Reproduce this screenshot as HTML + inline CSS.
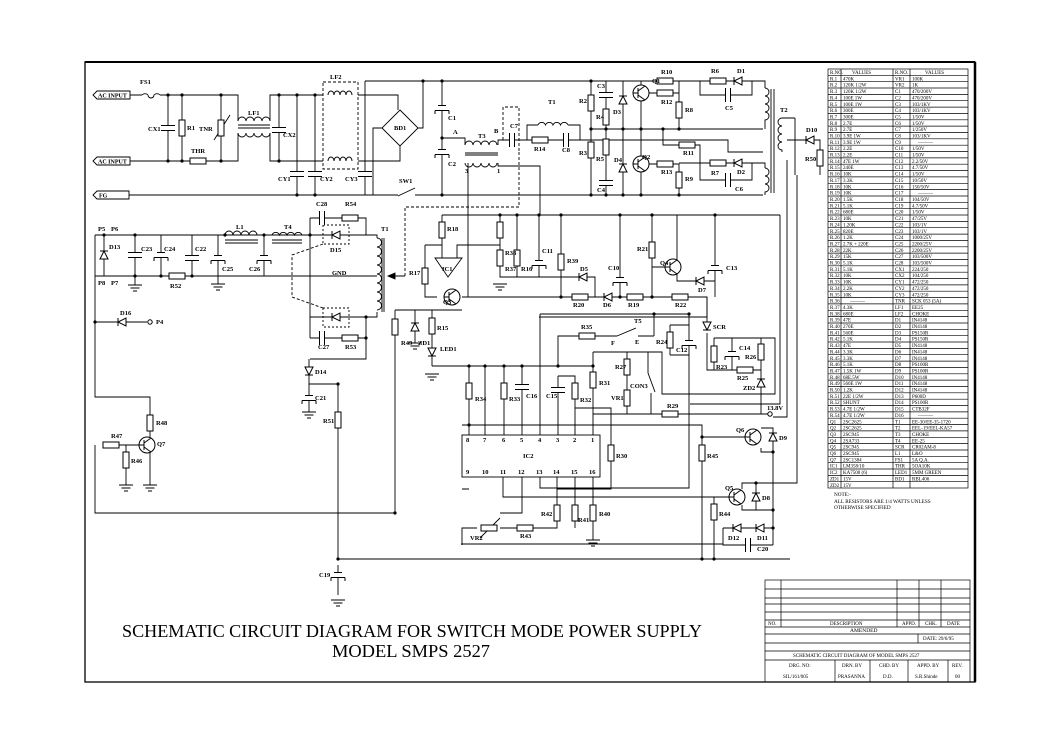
<!DOCTYPE html>
<html><head><meta charset="utf-8"><style>
html,body{margin:0;padding:0;background:#fff;}
svg{display:block;}
text{font-family:"Liberation Serif",serif;fill:#000;}
.l{font-size:6.5px;font-weight:bold;}
.t{font-size:5px;}
</style></head><body>
<svg width="1053" height="744" viewBox="0 0 1053 744" xmlns="http://www.w3.org/2000/svg">
<defs>
<g id="rv"><rect x="-3" y="-8" width="6" height="16" fill="#fff" stroke="#000"/></g>
<g id="rh"><rect x="-8" y="-3" width="16" height="6" fill="#fff" stroke="#000"/></g>
<g id="cv"><rect x="-7" y="-2.5" width="14" height="5" fill="#fff" stroke="none"/><path d="M-7 -2.5H7M-7 2.5H7" stroke="#000"/></g>
<g id="ch"><rect x="-2.5" y="-7" width="5" height="14" fill="#fff" stroke="none"/><path d="M-2.5 -7V7M2.5 -7V7" stroke="#000"/></g>
<g id="ce"><rect x="-7" y="-2.5" width="14" height="5" fill="#fff" stroke="none"/><path d="M-4 -2.5H4M-7 2.5H7M-7 2.5V6M7 2.5V6" stroke="#000" fill="none"/></g>
<g id="gnd"><path d="M-7 0H7M-4.5 3H4.5M-2 6H2" stroke="#000"/></g>
<g id="du"><polygon points="-4,4 4,4 0,-4" fill="#fff" stroke="#000"/><path d="M-4 -4H4" stroke="#000"/></g>
<g id="dd"><polygon points="-4,-4 4,-4 0,4" fill="#fff" stroke="#000"/><path d="M-4 4H4" stroke="#000"/></g>
<g id="dl"><polygon points="4,-4 4,4 -4,0" fill="#fff" stroke="#000"/><path d="M-4 -4V4" stroke="#000"/></g>
<g id="q"><circle r="8" fill="#fff" stroke="#000"/><path d="M-3 -5V5M-8 0H-3M-3 -2L4 -7M-3 2L4 7" stroke="#000" fill="none"/></g>
<g id="dot"><circle r="1.6" fill="#000"/></g>
</defs>

<!-- border -->
<rect x="85" y="62" width="890" height="620" fill="none" stroke="#000" stroke-width="1.3"/>
<path d="M85 62H975" stroke="#000" stroke-width="2"/>
<path d="M975 62V682" stroke="#000" stroke-width="2.5"/>

<g stroke="#000" stroke-width="0.9" fill="none">
<!-- mains input -->
<path d="M130 95H142M160 95H238V121M270 121V95H323M358 95H398V110"/>
<path d="M142 95a4 4 0 0 1 6 0a3 3 0 0 0 6 0a4 4 0 0 1 6 0"/>
<path d="M130 161H238V133M270 133V161H323M358 161H400V146"/>
<path d="M238 121a4 4 0 0 1 8 0a4 4 0 0 1 8 0a4 4 0 0 1 8 0a4 4 0 0 1 8 0"/>
<path d="M238 133a4 4 0 0 0 8 0a4 4 0 0 0 8 0a4 4 0 0 0 8 0a4 4 0 0 0 8 0"/>
<path d="M238 125H270M238 128H270"/>
<path d="M168 95V161M182 95V161M221 95V161M279 95V161M297 95V195M315 95V195M365 81V195"/>
<path d="M382 128H373V195M418 128H423V81M365 81H752V81"/>
<path d="M129 195H395M418 195H763"/>
<path d="M395 195l3 0M398 196l17 -8M415 195H418"/>
<polygon points="400,110 418,128 400,146 382,128"/>
<path d="M323 82H358V169H323Z" stroke-dasharray="3,2"/>
<path d="M328 95a3 4 0 0 1 6 0a3 4 0 0 1 6 0a3 4 0 0 1 6 0a3 4 0 0 1 6 0"/>
<path d="M328 161a3 4 0 0 1 6 0a3 4 0 0 1 6 0a3 4 0 0 1 6 0a3 4 0 0 1 6 0"/>
<path d="M214 140L230 115"/>
<!-- C1 C2 T3 -->
<path d="M442 81V195M442 138H465V145"/>
<path d="M465 145a4 4 0 0 1 8 0a4 4 0 0 1 8 0a4 4 0 0 1 8 0a4 4 0 0 1 8 0"/>
<path d="M465 153H498M465 155H498"/>
<path d="M465 163a4 4 0 0 0 8 0a4 4 0 0 0 8 0a4 4 0 0 0 8 0a4 4 0 0 0 8 0"/>
<path d="M468 163V297H707V317H539M498 145V140H591M498 163V166H540V215"/>
<path d="M527 140V125H538M568 125H580V140M580 140H728V152H763"/>
<path d="M538 125a4 4 0 0 1 7.5 0a4 4 0 0 1 7.5 0a4 4 0 0 1 7.5 0a4 4 0 0 1 7.5 0"/>
<path d="M503 140V107H519V152M519 152V207H405V276" stroke-dasharray="3,2"/>
<!-- half bridge -->
<path d="M591 81V195M606 81V195M623 81V195M641 81V195M591 129H763M591 195H763"/>
<path d="M648 93H679M679 81V129M700 81V95H752V81M752 81H765V88"/>
<path d="M663 129V145H700V163H752V163M648 164H679V195M679 163H765V168M700 163V180H752V163"/>
<path d="M765 88a4 4 0 0 1 0 8a4 4 0 0 1 0 8a4 4 0 0 1 0 8a4 4 0 0 1 0 8V129"/>
<path d="M765 168a4 4 0 0 1 0 8a4 4 0 0 1 0 8a4 4 0 0 1 0 8V195"/>
<path d="M771 89V193M774 89V193"/>
<path d="M795 118H782a4 4 0 0 0 0 8a4 4 0 0 0 0 8a4 4 0 0 0 0 8a4 4 0 0 0 0 8V152"/>
<path d="M795 118V175M787 140H820V175"/>
<path d="M780 215V404H690M787 160V417H773M797 175V483H742"/>
<!-- mid control -->
<path d="M442 215H780M500 215V277H595V297M517 215V277M539 215V277M561 215V297M620 215V297M652 215V297"/>
<path d="M485 245H500M652 267H666M677 260V215M677 274V281H715M715 215V297M707 297V322"/>
<path d="M540 314H690M540 314V435M654 314V336M689 314V488H540V477"/>
<path d="M670 325H689M670 355H689M670 325V355"/>
<path d="M707 333V370H761M714 338H775V394H662V352H593M714 338V370M732 338V370M761 338V414"/>
<path d="M593 352V435M593 414H770M627 352V414M648 352V373M651 393V414M648 373L655 392"/>
<path d="M558 366V336H617M617 336L636 328M638 336H654"/>
<path d="M432 366H593M485 366V435M504 366V435M522 366V435M558 376H575V435M558 376V435M575 408H611V489H557"/>
<path d="M462 425H702V559M702 437H745M761 428H773V545M761 448V452H773"/>
<path d="M503 477V497H730M714 497V559M742 489V483H797M742 505V510H773M756 483V510M723 528H773M723 528V545H773"/>
<path d="M338 559H790M469 366V477M469 489H462M522 477V513H500M477 528H462V545M461 544H723M500 528H557V477M575 477V528M593 477V540"/>
<path d="M480 538L500 518"/>
<!-- IC1 area -->
<path d="M442 215V258M425 245H442M425 245V297H437M457 258V245H485M462 297H468M395 310H462M395 310V513M415 310V343M432 310V366"/>
<polygon points="435,258 462,258 448,277" fill="#fff"/>
<!-- output rectifier -->
<path d="M95 235H310M95 276H377M95 235V397H150V437M95 445V513H395M95 322H147"/>
<path d="M104 235V276M135 235V285M161 235V276M192 235V276M218 235V284M264 235V276"/>
<path d="M225 235a4 4 0 0 1 8 0a4 4 0 0 1 8 0a4 4 0 0 1 8 0a4 4 0 0 1 8 0"/>
<path d="M272 235a4 4 0 0 1 7.5 0a4 4 0 0 1 7.5 0a4 4 0 0 1 7.5 0a4 4 0 0 1 7.5 0"/>
<path d="M225 240H258M225 243H258M272 240H302M272 243H302"/>
<path d="M310 218V338M310 218H366V235M310 235H366M366 235H377V238M310 317H377V312M310 338H366V317M310 359H366V338M309 359V384H338V559"/>
<path d="M377 238a4 4 0 0 1 0 9a4 4 0 0 1 0 9a4 4 0 0 1 0 9a4 4 0 0 1 0 9a4 4 0 0 1 0 9a4 4 0 0 1 0 9a4 4 0 0 1 0 9a4 4 0 0 1 0 9"/>
<path d="M382 238V312M384 238V312M393 276H405"/>
<polygon points="388,276 395,273 395,279" fill="#000"/>
<path d="M323 225H349V244H323Z" stroke-dasharray="2,2"/>
<path d="M323 308H349V327H323Z" stroke-dasharray="2,2"/>
<path d="M323 244L292 255V297L323 308" stroke-dasharray="3,2"/>
<path d="M309 384V412M338 565V595"/>
<path d="M103 445H139M126 445V485M150 452V485M95 445V445"/>
<rect x="462" y="435" width="138" height="42" fill="#fff"/>
</g>

<!-- components -->
<g>
<use href="#rv" x="182" y="128"/><use href="#rh" x="198" y="161"/><use href="#rv" x="221" y="128"/>
<use href="#cv" x="168" y="128"/><use href="#cv" x="279" y="130"/><use href="#cv" x="297" y="174"/><use href="#cv" x="315" y="174"/><use href="#cv" x="365" y="174"/>
<use href="#ce" x="442" y="108"/><use href="#ce" x="442" y="152"/>
<use href="#ch" x="512" y="140"/><use href="#rh" x="540" y="140"/><use href="#ch" x="566" y="140"/>
<use href="#rv" x="591" y="103"/><use href="#rv" x="591" y="150"/><use href="#cv" x="606" y="95"/><use href="#rv" x="606" y="117"/><use href="#rv" x="606" y="147"/><use href="#cv" x="606" y="183"/>
<use href="#du" x="623" y="100"/><use href="#du" x="623" y="168"/>
<use href="#q" x="641" y="93"/><use href="#q" x="641" y="164"/>
<use href="#rh" x="665" y="81"/><use href="#rh" x="665" y="93"/><use href="#rv" x="679" y="110"/><use href="#rh" x="718" y="81"/><use href="#dl" x="738" y="81"/>
<use href="#ch" x="728" y="95"/><use href="#rh" x="687" y="145"/><use href="#rh" x="665" y="164"/><use href="#rv" x="679" y="180"/><use href="#rh" x="718" y="163"/><use href="#dl" x="738" y="163"/><use href="#ch" x="728" y="180"/>
<use href="#dl" x="810" y="140"/><use href="#rv" x="820" y="158"/>
<use href="#rv" x="500" y="230"/><use href="#rv" x="500" y="258"/><use href="#rv" x="517" y="258"/><use href="#ce" x="539" y="263"/><use href="#rv" x="561" y="262"/>
<use href="#gnd" x="500" y="284"/><use href="#dl" x="583" y="277"/>
<use href="#rh" x="580" y="297"/><use href="#dl" x="608" y="297"/><use href="#rh" x="635" y="297"/><use href="#rh" x="680" y="297"/>
<use href="#ce" x="620" y="280"/><use href="#rv" x="652" y="250"/><use href="#q" x="673" y="267"/><use href="#dl" x="700" y="281"/><use href="#ce" x="715" y="268"/>
<use href="#rh" x="587" y="336"/><use href="#rv" x="670" y="340"/><use href="#ce" x="689" y="343"/>
<use href="#dd" x="707" y="326"/><use href="#rv" x="714" y="354"/><use href="#ce" x="732" y="354"/><use href="#rv" x="761" y="352"/><use href="#rh" x="745" y="370"/><use href="#du" x="761" y="383"/>
<use href="#rv" x="593" y="380"/><use href="#rv" x="627" y="367"/><use href="#rv" x="627" y="398"/><use href="#rh" x="670" y="414"/>
<use href="#rv" x="469" y="391"/><use href="#rv" x="504" y="391"/><use href="#cv" x="522" y="387"/><use href="#cv" x="558" y="390"/><use href="#rv" x="575" y="391"/><use href="#rv" x="611" y="453"/>
<use href="#rv" x="702" y="453"/><use href="#q" x="753" y="437"/><use href="#du" x="773" y="437"/>
<use href="#q" x="737" y="497"/><use href="#du" x="756" y="497"/><use href="#rv" x="714" y="512"/>
<use href="#dl" x="737" y="528"/><use href="#dl" x="760" y="528"/><use href="#ch" x="748" y="545"/>
<use href="#rv" x="557" y="513"/><use href="#rv" x="575" y="513"/><use href="#rv" x="593" y="513"/><use href="#rh" x="525" y="528"/><use href="#gnd" x="593" y="540"/>
<use href="#rh" x="489" y="528"/>
<use href="#rv" x="442" y="230"/><use href="#rv" x="425" y="276"/><use href="#q" x="452" y="297"/>
<use href="#rv" x="395" y="327"/><use href="#du" x="415" y="327"/><use href="#gnd" x="415" y="343"/><use href="#rv" x="432" y="326"/><use href="#dd" x="432" y="352"/><use href="#gnd" x="432" y="374"/>
<use href="#du" x="104" y="255"/><use href="#cv" x="135" y="255"/><use href="#gnd" x="135" y="285"/><use href="#ce" x="161" y="255"/><use href="#cv" x="192" y="258"/><use href="#ce" x="218" y="258"/><use href="#gnd" x="218" y="284"/><use href="#ce" x="264" y="258"/>
<use href="#rh" x="177" y="276"/><use href="#ch" x="322" y="218"/><use href="#rh" x="350" y="218"/><use href="#dl" x="336" y="235"/>
<use href="#dl" x="336" y="317"/><use href="#ch" x="322" y="338"/><use href="#rh" x="350" y="338"/>
<use href="#dd" x="309" y="371"/><use href="#ce" x="309" y="398"/><use href="#gnd" x="309" y="412"/><use href="#rv" x="338" y="420"/>
<use href="#ce" x="338" y="575"/><use href="#gnd" x="338" y="600"/>
<use href="#dl" x="122" y="322"/>
<use href="#rv" x="150" y="423"/><use href="#q" x="147" y="445"/><use href="#rh" x="111" y="445"/><use href="#rv" x="126" y="460"/><use href="#gnd" x="126" y="485"/><use href="#gnd" x="150" y="485"/>
<use href="#dot" x="168" y="95"/><use href="#dot" x="182" y="95"/><use href="#dot" x="221" y="95"/><use href="#dot" x="279" y="95"/><use href="#dot" x="297" y="95"/><use href="#dot" x="315" y="95"/>
<use href="#dot" x="168" y="161"/><use href="#dot" x="182" y="161"/><use href="#dot" x="221" y="161"/><use href="#dot" x="279" y="161"/><use href="#dot" x="297" y="195"/><use href="#dot" x="315" y="195"/>
<use href="#dot" x="423" y="81"/><use href="#dot" x="442" y="81"/><use href="#dot" x="442" y="138"/><use href="#dot" x="442" y="195"/>
<use href="#dot" x="591" y="81"/><use href="#dot" x="591" y="129"/><use href="#dot" x="606" y="129"/><use href="#dot" x="623" y="129"/><use href="#dot" x="641" y="129"/><use href="#dot" x="663" y="129"/><use href="#dot" x="679" y="129"/>
<use href="#dot" x="591" y="195"/><use href="#dot" x="606" y="195"/><use href="#dot" x="623" y="195"/><use href="#dot" x="641" y="195"/><use href="#dot" x="679" y="195"/>
<use href="#dot" x="500" y="215"/><use href="#dot" x="517" y="215"/><use href="#dot" x="539" y="215"/><use href="#dot" x="561" y="215"/><use href="#dot" x="620" y="215"/><use href="#dot" x="652" y="215"/><use href="#dot" x="715" y="215"/>
<use href="#dot" x="561" y="297"/><use href="#dot" x="620" y="297"/><use href="#dot" x="652" y="297"/><use href="#dot" x="654" y="314"/><use href="#dot" x="689" y="314"/>
<use href="#dot" x="338" y="559"/><use href="#dot" x="395" y="513"/><use href="#dot" x="338" y="384"/><use href="#dot" x="702" y="559"/><use href="#dot" x="714" y="559"/>
<use href="#dot" x="558" y="366"/><use href="#dot" x="593" y="366"/><use href="#dot" x="504" y="366"/><use href="#dot" x="522" y="366"/><use href="#dot" x="485" y="366"/><use href="#dot" x="469" y="366"/><use href="#dot" x="469" y="425"/>
<use href="#dot" x="773" y="452"/><use href="#dot" x="773" y="510"/><use href="#dot" x="773" y="528"/><use href="#dot" x="756" y="483"/><use href="#dot" x="702" y="437"/>
<use href="#dot" x="104" y="235"/><use href="#dot" x="135" y="235"/><use href="#dot" x="135" y="276"/><use href="#dot" x="161" y="276"/><use href="#dot" x="192" y="276"/><use href="#dot" x="225" y="235"/><use href="#dot" x="264" y="235"/><use href="#dot" x="310" y="235"/><use href="#dot" x="366" y="317"/><use href="#dot" x="366" y="338"/><use href="#dot" x="95" y="322"/>
<circle cx="150" cy="322" r="2.2" fill="#fff" stroke="#000"/><circle cx="770" cy="414" r="2.2" fill="#fff" stroke="#000"/>
</g>

<!-- IC2 -->
<g class="l" font-size="6.5">
<text x="466" y="442">8</text><text x="483" y="442">7</text><text x="502" y="442">6</text><text x="520" y="442">5</text><text x="538" y="442">4</text><text x="556" y="442">3</text><text x="573" y="442">2</text><text x="591" y="442">1</text>
<text x="523" y="458">IC2</text>
<text x="466" y="474">9</text><text x="482" y="474">10</text><text x="500" y="474">11</text><text x="518" y="474">12</text><text x="536" y="474">13</text><text x="553" y="474">14</text><text x="571" y="474">15</text><text x="589" y="474">16</text>
</g>

<!-- input labels -->
<g stroke="#000" fill="none" stroke-width="0.9">
<path d="M97 91H130V99H97L93 95Z"/><path d="M97 157H130V165H97L93 161Z"/><path d="M97 191H129V199H97L93 195Z"/>
</g>
<g class="l">
<text x="98" y="97.5" font-size="6">AC INPUT</text><text x="98" y="163.5" font-size="6">AC INPUT</text><text x="99" y="197.5" font-size="6">FG</text>
<text x="140" y="84">FS1</text><text x="148" y="131">CX1</text><text x="187" y="130">R1</text><text x="199" y="131">TNR</text><text x="191" y="153">THR</text>
<text x="248" y="115">LF1</text><text x="283" y="137">CX2</text><text x="330" y="79">LF2</text><text x="394" y="130">BD1</text>
<text x="278" y="181">CY1</text><text x="320" y="181">CY2</text><text x="345" y="181">CY3</text><text x="399" y="183">SW1</text>
<text x="448" y="120">C1</text><text x="448" y="166">C2</text><text x="453" y="134">A</text><text x="478" y="138">T3</text><text x="494" y="133">B</text><text x="465" y="173">3</text><text x="497" y="173">1</text>
<text x="510" y="128">C7</text><text x="548" y="104">T1</text><text x="534" y="151">R14</text><text x="562" y="152">C8</text>
<text x="579" y="103">R2</text><text x="579" y="155">R3</text><text x="597" y="88">C3</text><text x="596" y="119">R4</text><text x="596" y="161">R5</text><text x="597" y="192">C4</text>
<text x="613" y="114">D3</text><text x="614" y="162">D4</text><text x="652" y="83">Q1</text><text x="642" y="159">Q2</text>
<text x="661" y="74">R10</text><text x="661" y="104">R12</text><text x="685" y="112">R8</text><text x="711" y="73">R6</text><text x="737" y="73">D1</text><text x="725" y="110">C5</text>
<text x="683" y="155">R11</text><text x="661" y="174">R13</text><text x="685" y="181">R9</text><text x="711" y="175">R7</text><text x="737" y="174">D2</text><text x="735" y="191">C6</text>
<text x="780" y="112">T2</text><text x="806" y="132">D10</text><text x="805" y="161">R50</text>
<text x="85" y="232">&#160;</text><text x="98" y="231">P5</text><text x="111" y="231">P6</text><text x="109" y="249">D13</text><text x="98" y="285">P8</text><text x="111" y="285">P7</text>
<text x="141" y="251">C23</text><text x="164" y="251">C24</text><text x="195" y="251">C22</text><text x="222" y="271">C25</text><text x="249" y="271">C26</text><text x="170" y="288">R52</text>
<text x="236" y="229">L1</text><text x="284" y="229">T4</text><text x="316" y="206">C28</text><text x="345" y="206">R54</text><text x="330" y="252">D15</text><text x="381" y="231">T1</text>
<text x="332" y="275">GND</text><text x="318" y="349">C27</text><text x="345" y="349">R53</text>
<text x="315" y="374">D14</text><text x="315" y="400">C21</text><text x="323" y="423">R51</text><text x="319" y="577">C19</text>
<text x="120" y="315">D16</text><text x="156" y="324">P4</text>
<text x="111" y="438">R47</text><text x="156" y="425">R48</text><text x="157" y="446">Q7</text><text x="131" y="463">R46</text>
<text x="447" y="231">R18</text><text x="409" y="275">R17</text><text x="442" y="271">IC1</text><text x="443" y="304">Q3</text>
<text x="401" y="345">R49</text><text x="418" y="345">ZD1</text><text x="437" y="330">R15</text><text x="440" y="351">LED1</text>
<text x="475" y="401">R34</text><text x="509" y="401">R33</text><text x="526" y="398">C16</text><text x="546" y="398">C15</text><text x="580" y="402">R32</text><text x="599" y="385">R31</text>
<text x="581" y="329">R35</text><text x="634" y="323">T5</text><text x="611" y="345">F</text><text x="635" y="344">E</text>
<text x="615" y="369">R27</text><text x="611" y="400">VR1</text><text x="630" y="388">CON3</text><text x="667" y="408">R29</text><text x="767" y="410">13.8V</text>
<text x="656" y="344">R24</text><text x="676" y="352">C12</text><text x="713" y="329">SCR</text><text x="739" y="350">C14</text><text x="745" y="359">R26</text><text x="716" y="369">R23</text><text x="737" y="380">R25</text><text x="743" y="390">ZD2</text>
<text x="616" y="458">R30</text><text x="707" y="458">R45</text><text x="736" y="432">Q6</text><text x="779" y="440">D9</text>
<text x="725" y="490">Q5</text><text x="762" y="500">D8</text><text x="719" y="516">R44</text><text x="728" y="540">D12</text><text x="757" y="540">D11</text><text x="757" y="551">C20</text>
<text x="541" y="516">R42</text><text x="578" y="522">R41</text><text x="599" y="516">R40</text><text x="520" y="538">R43</text><text x="470" y="540">VR2</text>
<text x="505" y="255">R38</text><text x="505" y="271">R37</text><text x="521" y="271">R16</text><text x="542" y="253">C11</text><text x="567" y="263">R39</text><text x="580" y="271">D5</text>
<text x="573" y="307">R20</text><text x="603" y="307">D6</text><text x="628" y="307">R19</text><text x="608" y="270">C10</text><text x="637" y="251">R21</text><text x="660" y="265">Q4</text><text x="698" y="292">D7</text><text x="726" y="270">C13</text><text x="675" y="307">R22</text>
</g>

<!-- parts table -->
<g stroke="#000" fill="none" stroke-width="0.7">
<rect x="828" y="69" width="140" height="419"/>
<path d="M841 69V488M893 69V488M910 69V488"/>
<path d="M828 75.3H968M828 81.7H968M828 88H968M828 94.4H968M828 100.7H968M828 107.1H968M828 113.4H968M828 119.8H968M828 126.1H968M828 132.5H968M828 138.8H968M828 145.2H968M828 151.5H968M828 157.9H968M828 164.2H968M828 170.6H968M828 176.9H968M828 183.3H968M828 189.6H968M828 196H968M828 202.3H968M828 208.7H968M828 215H968M828 221.4H968M828 227.7H968M828 234.1H968M828 240.4H968M828 246.8H968M828 253.1H968M828 259.5H968M828 265.8H968M828 272.2H968M828 278.5H968M828 284.9H968M828 291.2H968M828 297.6H968M828 303.9H968M828 310.3H968M828 316.6H968M828 323H968M828 329.3H968M828 335.7H968M828 342H968M828 348.4H968M828 354.7H968M828 361.1H968M828 367.4H968M828 373.8H968M828 380.1H968M828 386.5H968M828 392.8H968M828 399.2H968M828 405.5H968M828 411.9H968M828 418.2H968M828 424.6H968M828 430.9H968M828 437.3H968M828 443.6H968M828 450H968M828 456.3H968M828 462.7H968M828 469H968M828 475.4H968M828 481.7H968"/>
</g>
<g class="t">
<text x="830" y="74"><tspan x="830">R.NO.</tspan><tspan x="830" dy="6.35">R.1</tspan><tspan x="830" dy="6.35">R.2</tspan><tspan x="830" dy="6.35">R.3</tspan><tspan x="830" dy="6.35">R.4</tspan><tspan x="830" dy="6.35">R.5</tspan><tspan x="830" dy="6.35">R.6</tspan><tspan x="830" dy="6.35">R.7</tspan><tspan x="830" dy="6.35">R.8</tspan><tspan x="830" dy="6.35">R.9</tspan><tspan x="830" dy="6.35">R.10</tspan><tspan x="830" dy="6.35">R.11</tspan><tspan x="830" dy="6.35">R.12</tspan><tspan x="830" dy="6.35">R.13</tspan><tspan x="830" dy="6.35">R.14</tspan><tspan x="830" dy="6.35">R.15</tspan><tspan x="830" dy="6.35">R.16</tspan><tspan x="830" dy="6.35">R.17</tspan><tspan x="830" dy="6.35">R.18</tspan><tspan x="830" dy="6.35">R.19</tspan><tspan x="830" dy="6.35">R.20</tspan><tspan x="830" dy="6.35">R.21</tspan><tspan x="830" dy="6.35">R.22</tspan><tspan x="830" dy="6.35">R.23</tspan><tspan x="830" dy="6.35">R.24</tspan><tspan x="830" dy="6.35">R.25</tspan><tspan x="830" dy="6.35">R.26</tspan><tspan x="830" dy="6.35">R.27</tspan><tspan x="830" dy="6.35">R.28</tspan><tspan x="830" dy="6.35">R.29</tspan><tspan x="830" dy="6.35">R.30</tspan><tspan x="830" dy="6.35">R.31</tspan><tspan x="830" dy="6.35">R.32</tspan><tspan x="830" dy="6.35">R.33</tspan><tspan x="830" dy="6.35">R.34</tspan><tspan x="830" dy="6.35">R.35</tspan><tspan x="830" dy="6.35">R.36</tspan><tspan x="830" dy="6.35">R.37</tspan><tspan x="830" dy="6.35">R.38</tspan><tspan x="830" dy="6.35">R.39</tspan><tspan x="830" dy="6.35">R.40</tspan><tspan x="830" dy="6.35">R.41</tspan><tspan x="830" dy="6.35">R.42</tspan><tspan x="830" dy="6.35">R.43</tspan><tspan x="830" dy="6.35">R.44</tspan><tspan x="830" dy="6.35">R.45</tspan><tspan x="830" dy="6.35">R.46</tspan><tspan x="830" dy="6.35">R.47</tspan><tspan x="830" dy="6.35">R.48</tspan><tspan x="830" dy="6.35">R.49</tspan><tspan x="830" dy="6.35">R.50</tspan><tspan x="830" dy="6.35">R.51</tspan><tspan x="830" dy="6.35">R.52</tspan><tspan x="830" dy="6.35">R.53</tspan><tspan x="830" dy="6.35">R.54</tspan><tspan x="830" dy="6.35">Q1</tspan><tspan x="830" dy="6.35">Q2</tspan><tspan x="830" dy="6.35">Q3</tspan><tspan x="830" dy="6.35">Q4</tspan><tspan x="830" dy="6.35">Q5</tspan><tspan x="830" dy="6.35">Q6</tspan><tspan x="830" dy="6.35">Q7</tspan><tspan x="830" dy="6.35">IC1</tspan><tspan x="830" dy="6.35">IC2</tspan><tspan x="830" dy="6.35">ZD1</tspan><tspan x="830" dy="6.35">ZD2</tspan></text>
<text x="843" y="74"><tspan x="852">VALUES</tspan><tspan x="843" dy="6.35">470K</tspan><tspan x="843" dy="6.35">120K 1/2W</tspan><tspan x="843" dy="6.35">120K 1/2W</tspan><tspan x="843" dy="6.35">100E 1W</tspan><tspan x="843" dy="6.35">100E 1W</tspan><tspan x="843" dy="6.35">300E</tspan><tspan x="843" dy="6.35">300E</tspan><tspan x="843" dy="6.35">2.7E</tspan><tspan x="843" dy="6.35">2.7E</tspan><tspan x="843" dy="6.35">3.9E 1W</tspan><tspan x="843" dy="6.35">3.9E 1W</tspan><tspan x="843" dy="6.35">2.2E</tspan><tspan x="843" dy="6.35">2.2E</tspan><tspan x="843" dy="6.35">47E 1W</tspan><tspan x="843" dy="6.35">240E</tspan><tspan x="843" dy="6.35">10K</tspan><tspan x="843" dy="6.35">3.3K</tspan><tspan x="843" dy="6.35">10K</tspan><tspan x="843" dy="6.35">10K</tspan><tspan x="843" dy="6.35">1.5K</tspan><tspan x="843" dy="6.35">5.1K</tspan><tspan x="843" dy="6.35">680E</tspan><tspan x="843" dy="6.35">10K</tspan><tspan x="843" dy="6.35">1.20K</tspan><tspan x="843" dy="6.35">820E</tspan><tspan x="843" dy="6.35">1.2K</tspan><tspan x="843" dy="6.35">2.7K + 220E</tspan><tspan x="843" dy="6.35">22K</tspan><tspan x="843" dy="6.35">15K</tspan><tspan x="843" dy="6.35">5.1K</tspan><tspan x="843" dy="6.35">5.1K</tspan><tspan x="843" dy="6.35">10K</tspan><tspan x="843" dy="6.35">10K</tspan><tspan x="843" dy="6.35">2.2K</tspan><tspan x="843" dy="6.35">10K</tspan><tspan x="850" dy="6.35">———</tspan><tspan x="843" dy="6.35">4.3K</tspan><tspan x="843" dy="6.35">680E</tspan><tspan x="843" dy="6.35">47E</tspan><tspan x="843" dy="6.35">270E</tspan><tspan x="843" dy="6.35">560E</tspan><tspan x="843" dy="6.35">5.1K</tspan><tspan x="843" dy="6.35">47E</tspan><tspan x="843" dy="6.35">3.3K</tspan><tspan x="843" dy="6.35">3.3K</tspan><tspan x="843" dy="6.35">5.1K</tspan><tspan x="843" dy="6.35">1.5K 1W</tspan><tspan x="843" dy="6.35">68E.5W</tspan><tspan x="843" dy="6.35">560E 1W</tspan><tspan x="843" dy="6.35">1.2K</tspan><tspan x="843" dy="6.35">22E 1/2W</tspan><tspan x="843" dy="6.35">SHUNT</tspan><tspan x="843" dy="6.35">4.7E 1/2W</tspan><tspan x="843" dy="6.35">4.7E 1/2W</tspan><tspan x="843" dy="6.35">2SC2625</tspan><tspan x="843" dy="6.35">2SC2625</tspan><tspan x="843" dy="6.35">2SC945</tspan><tspan x="843" dy="6.35">2SA733</tspan><tspan x="843" dy="6.35">2SC945</tspan><tspan x="843" dy="6.35">2SC945</tspan><tspan x="843" dy="6.35">2SC1384</tspan><tspan x="843" dy="6.35">LM358/10</tspan><tspan x="843" dy="6.35">KA7500 (6)</tspan><tspan x="843" dy="6.35">15V</tspan><tspan x="843" dy="6.35">15V</tspan></text>
<text x="895" y="74"><tspan x="895">R.NO.</tspan><tspan x="895" dy="6.35">VR1</tspan><tspan x="895" dy="6.35">VR2</tspan><tspan x="895" dy="6.35">C1</tspan><tspan x="895" dy="6.35">C2</tspan><tspan x="895" dy="6.35">C3</tspan><tspan x="895" dy="6.35">C4</tspan><tspan x="895" dy="6.35">C5</tspan><tspan x="895" dy="6.35">C6</tspan><tspan x="895" dy="6.35">C7</tspan><tspan x="895" dy="6.35">C8</tspan><tspan x="895" dy="6.35">C9</tspan><tspan x="895" dy="6.35">C10</tspan><tspan x="895" dy="6.35">C11</tspan><tspan x="895" dy="6.35">C12</tspan><tspan x="895" dy="6.35">C13</tspan><tspan x="895" dy="6.35">C14</tspan><tspan x="895" dy="6.35">C15</tspan><tspan x="895" dy="6.35">C16</tspan><tspan x="895" dy="6.35">C17</tspan><tspan x="895" dy="6.35">C18</tspan><tspan x="895" dy="6.35">C19</tspan><tspan x="895" dy="6.35">C20</tspan><tspan x="895" dy="6.35">C21</tspan><tspan x="895" dy="6.35">C22</tspan><tspan x="895" dy="6.35">C23</tspan><tspan x="895" dy="6.35">C24</tspan><tspan x="895" dy="6.35">C25</tspan><tspan x="895" dy="6.35">C26</tspan><tspan x="895" dy="6.35">C27</tspan><tspan x="895" dy="6.35">C28</tspan><tspan x="895" dy="6.35">CX1</tspan><tspan x="895" dy="6.35">CX2</tspan><tspan x="895" dy="6.35">CY1</tspan><tspan x="895" dy="6.35">CY2</tspan><tspan x="895" dy="6.35">CY3</tspan><tspan x="895" dy="6.35">TNR</tspan><tspan x="895" dy="6.35">LF1</tspan><tspan x="895" dy="6.35">LF2</tspan><tspan x="895" dy="6.35">D1</tspan><tspan x="895" dy="6.35">D2</tspan><tspan x="895" dy="6.35">D3</tspan><tspan x="895" dy="6.35">D4</tspan><tspan x="895" dy="6.35">D5</tspan><tspan x="895" dy="6.35">D6</tspan><tspan x="895" dy="6.35">D7</tspan><tspan x="895" dy="6.35">D8</tspan><tspan x="895" dy="6.35">D9</tspan><tspan x="895" dy="6.35">D10</tspan><tspan x="895" dy="6.35">D11</tspan><tspan x="895" dy="6.35">D12</tspan><tspan x="895" dy="6.35">D13</tspan><tspan x="895" dy="6.35">D14</tspan><tspan x="895" dy="6.35">D15</tspan><tspan x="895" dy="6.35">D16</tspan><tspan x="895" dy="6.35">T1</tspan><tspan x="895" dy="6.35">T2</tspan><tspan x="895" dy="6.35">T3</tspan><tspan x="895" dy="6.35">T4</tspan><tspan x="895" dy="6.35">SCR</tspan><tspan x="895" dy="6.35">L1</tspan><tspan x="895" dy="6.35">FS1</tspan><tspan x="895" dy="6.35">THR</tspan><tspan x="895" dy="6.35">LED1</tspan><tspan x="895" dy="6.35">BD1</tspan></text>
<text x="912" y="74"><tspan x="925">VALUES</tspan><tspan x="912" dy="6.35">100K</tspan><tspan x="912" dy="6.35">1K</tspan><tspan x="912" dy="6.35">470/200V</tspan><tspan x="912" dy="6.35">470/200V</tspan><tspan x="912" dy="6.35">103/1KV</tspan><tspan x="912" dy="6.35">103/1KV</tspan><tspan x="912" dy="6.35">1/50V</tspan><tspan x="912" dy="6.35">1/50V</tspan><tspan x="912" dy="6.35">1/250V</tspan><tspan x="912" dy="6.35">103/1KV</tspan><tspan x="918" dy="6.35">———</tspan><tspan x="912" dy="6.35">1/50V</tspan><tspan x="912" dy="6.35">1/50V</tspan><tspan x="912" dy="6.35">2.2/50V</tspan><tspan x="912" dy="6.35">4.7/50V</tspan><tspan x="912" dy="6.35">1/50V</tspan><tspan x="912" dy="6.35">10/50V</tspan><tspan x="912" dy="6.35">150/50V</tspan><tspan x="918" dy="6.35">———</tspan><tspan x="912" dy="6.35">104/50V</tspan><tspan x="912" dy="6.35">4.7/50V</tspan><tspan x="912" dy="6.35">1/50V</tspan><tspan x="912" dy="6.35">47/25V</tspan><tspan x="912" dy="6.35">103/1V</tspan><tspan x="912" dy="6.35">103/1V</tspan><tspan x="912" dy="6.35">1000/25V</tspan><tspan x="912" dy="6.35">2200/25V</tspan><tspan x="912" dy="6.35">2200/25V</tspan><tspan x="912" dy="6.35">103/500V</tspan><tspan x="912" dy="6.35">103/500V</tspan><tspan x="912" dy="6.35">224/250</tspan><tspan x="912" dy="6.35">104/250</tspan><tspan x="912" dy="6.35">472/250</tspan><tspan x="912" dy="6.35">472/250</tspan><tspan x="912" dy="6.35">472/250</tspan><tspan x="912" dy="6.35">SCK 053 (5A)</tspan><tspan x="912" dy="6.35">EE25</tspan><tspan x="912" dy="6.35">CHOKE</tspan><tspan x="912" dy="6.35">IN4148</tspan><tspan x="912" dy="6.35">IN4148</tspan><tspan x="912" dy="6.35">PS150R</tspan><tspan x="912" dy="6.35">PS150R</tspan><tspan x="912" dy="6.35">IN4148</tspan><tspan x="912" dy="6.35">IN4148</tspan><tspan x="912" dy="6.35">IN4148</tspan><tspan x="912" dy="6.35">PS100R</tspan><tspan x="912" dy="6.35">PS100R</tspan><tspan x="912" dy="6.35">IN4148</tspan><tspan x="912" dy="6.35">IN4148</tspan><tspan x="912" dy="6.35">IN4148</tspan><tspan x="912" dy="6.35">P600D</tspan><tspan x="912" dy="6.35">PS100R</tspan><tspan x="912" dy="6.35">CTB32F</tspan><tspan x="918" dy="6.35">———</tspan><tspan x="912" dy="6.35">EE-30/EE-35-1720</tspan><tspan x="912" dy="6.35">EEL-19/EEL-KA57</tspan><tspan x="912" dy="6.35">CHOKE</tspan><tspan x="912" dy="6.35">EE-25</tspan><tspan x="912" dy="6.35">CR02AM-8</tspan><tspan x="912" dy="6.35">L&amp;O</tspan><tspan x="912" dy="6.35">5A Q.A.</tspan><tspan x="912" dy="6.35">5OA10K</tspan><tspan x="912" dy="6.35">5MM GREEN</tspan><tspan x="912" dy="6.35">RBL406</tspan></text>
<text x="834" y="496" font-size="5.2">NOTE:-</text>
<text x="834" y="503" font-size="5.2">ALL RESISTORS ARE 1/4 WATTS UNLESS</text>
<text x="834" y="509" font-size="5.2">OTHERWISE SPECIFIED</text>
</g>

<!-- title block -->
<g stroke="#000" fill="none" stroke-width="0.7">
<rect x="765" y="580" width="205" height="102"/>
<path d="M765 589H970M765 598H970M765 604H970M765 612H970M765 620H970M765 627H970M765 634H970M765 643H970M765 651H970M765 660H970"/>
<path d="M781 580V627M897 580V627M919 580V627M941 580V627M918 634V643M835 660V682M870 660V682M908 660V682M948 660V682"/>
</g>
<g class="t" font-size="4.8">
<text x="768" y="625">NO.</text><text x="830" y="625">DESCRIPTION</text><text x="902" y="625">APPD.</text><text x="925" y="625">CHK.</text><text x="947" y="625">DATE</text>
<text x="850" y="632" font-size="5.5">AMENDED</text>
<text x="923" y="640">DATE: 29/6/95</text>
<text x="793" y="657">SCHEMATIC CIRCUIT DIAGRAM OF MODEL SMPS 2527</text>
<text x="789" y="667">DRG. NO:</text><text x="783" y="678">SIL/161/005</text>
<text x="842" y="667">DRN. BY</text><text x="838" y="678">PRASANNA</text>
<text x="879" y="667">CHD. BY</text><text x="883" y="678">D.D.</text>
<text x="917" y="667">APPD. BY</text><text x="915" y="678">S.R.Shinde</text>
<text x="952" y="667">REV.</text><text x="955" y="678">00</text>
</g>

<!-- title -->
<text x="122" y="637" font-size="18" textLength="580" lengthAdjust="spacingAndGlyphs">SCHEMATIC CIRCUIT DIAGRAM FOR SWITCH MODE POWER SUPPLY</text>
<text x="332" y="657" font-size="18" textLength="158" lengthAdjust="spacingAndGlyphs">MODEL  SMPS 2527</text>
</svg>
</body></html>
